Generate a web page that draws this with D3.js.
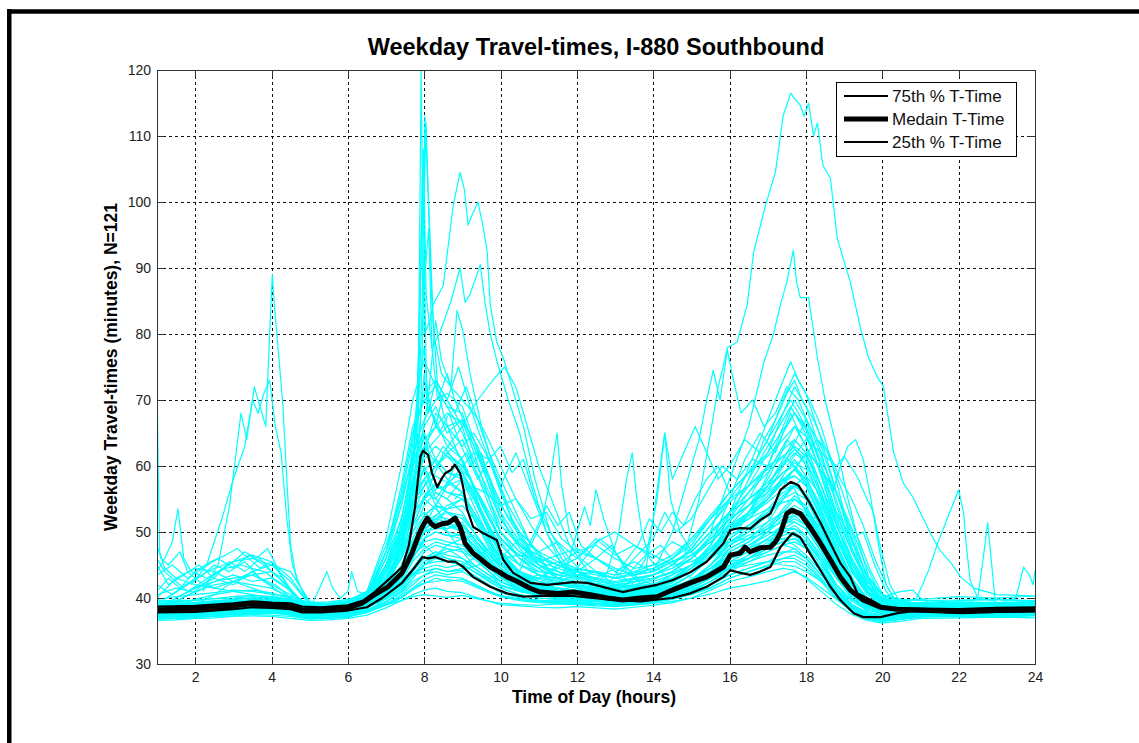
<!DOCTYPE html>
<html>
<head>
<meta charset="utf-8">
<script src="https://cdn.jsdelivr.net/npm/d3@7"></script>
<style>
  html, body { margin: 0; padding: 0; background: #ffffff; }
  svg { display: block; }
  text { font-family: "Liberation Sans", Arial, Helvetica, sans-serif; }
</style>
</head>
<body>
<svg id="chart" width="1139" height="743"></svg>
<script>
// ---- data -------------------------------------------------------------
const chartTitle = "Weekday Travel-times, I-880 Southbound";
const xLabel = "Time of Day (hours)";
const yLabel = "Weekday Travel-times (minutes), N=121";
const xTicks = [2, 4, 6, 8, 10, 12, 14, 16, 18, 20, 22, 24];
const yTicks = [30, 40, 50, 60, 70, 80, 90, 100, 110, 120];
const legendLabels = ["75th % T-Time", "Medain T-Time", "25th % T-Time"];

// common time grid (hours) for the ordinary weekday profiles
const hours = [1, 1.5, 2, 2.5, 3, 3.5, 4, 4.5, 5, 5.5, 6, 6.5,
  7, 7.4, 7.7, 8, 8.3, 8.6, 9, 9.3, 9.7, 10, 10.5,
  11, 11.5, 12, 12.5, 13, 13.5, 14, 14.5, 15, 15.5, 16,
  16.5, 17, 17.4, 17.7, 18, 18.4, 18.8, 19.2, 19.6, 20, 20.5, 21,
  22, 23, 24];

// ordinary weekday travel times (minutes) on the grid above
const typicalDays = [
  [37.6,37.5,37.8,37.7,38.0,38.2,38.1,37.9,37.4,37.5,37.7,38.2, 39.0,39.6,40.2,40.5,40.3,40.1,40.4,40.0,39.5,39.2,39.0, 38.9,39.1,39.0,38.8,38.7,38.9,39.2,39.5,40.0,40.6,41.5, 42.0,42.6,43.4,44.0,43.2,41.5,39.8,38.4,37.2,36.8,37.0,37.5, 37.6,37.5,37.7],
  [38.4,38.6,38.5,38.8,39.0,39.2,39.4,39.0,38.3,38.4,38.7,39.5, 42.5,47.0,55.0,63.0,60.5,58.0,56.0,52.0,47.5,45.0,42.5, 41.5,41.0,40.8,40.5,40.2,40.4,40.8,41.4,42.5,44.0,46.0, 47.0,48.0,49.5,50.0,48.5,45.5,42.0,39.8,38.5,38.0,38.2,38.4, 38.5,38.4,38.6],
  [38.0,38.1,38.3,38.2,38.6,38.9,39.0,38.7,38.0,38.0,38.3,39.0, 41.0,43.5,46.5,50.0,51.0,50.5,51.5,49.0,46.0,44.0,42.0, 41.0,40.6,40.5,40.2,39.8,40.0,40.3,41.0,42.3,44.0,47.5, 49.0,51.5,55.0,57.5,55.0,50.5,45.5,41.5,39.3,38.4,38.0,38.0, 38.2,38.1,38.3],
  [37.8,37.7,38.0,38.1,38.3,38.4,38.6,38.2,37.7,37.8,38.0,38.6, 40.0,41.5,43.5,45.5,46.5,47.0,47.5,46.5,44.5,43.0,41.5, 40.5,40.2,40.1,39.9,39.6,39.8,40.0,40.5,41.5,43.0,45.0, 46.0,48.0,51.0,53.0,51.5,48.0,44.0,40.5,38.6,38.0,37.8,38.0, 38.0,37.9,38.1],
  [39.0,41.0,43.0,44.5,45.5,46.0,45.0,42.5,39.0,38.6,38.8,39.6, 43.0,46.0,50.0,54.0,56.0,55.0,53.0,50.0,46.5,44.5,42.5, 41.8,41.5,41.0,40.6,40.2,40.5,40.9,41.5,42.8,44.5,46.0, 47.0,48.0,49.0,49.5,48.0,45.0,42.0,39.5,38.2,37.8,38.0,38.2, 38.3,38.2,38.4],
  [38.6,38.8,38.7,39.0,39.3,39.5,39.7,39.4,38.6,38.5,38.9,40.0, 45.0,52.0,60.0,66.0,69.0,65.0,67.0,62.0,55.0,50.0,46.0, 43.5,42.5,42.0,41.6,41.0,41.5,42.0,43.0,44.5,47.0,50.0, 52.0,55.0,58.5,61.0,58.5,53.0,47.5,43.0,40.0,38.8,38.5,38.6, 38.7,38.6,38.8],
  [37.0,36.9,37.2,37.3,37.5,37.7,37.8,37.4,36.9,37.0,37.3,37.9, 39.0,40.5,42.0,43.5,44.5,44.0,44.5,43.5,42.0,41.0,40.0, 39.6,39.5,39.4,39.2,39.0,39.3,39.6,40.0,40.8,42.0,43.5, 44.5,45.5,46.8,47.5,46.0,43.5,40.5,38.2,36.9,36.5,36.8,37.2, 37.3,37.2,37.4],
  [38.2,38.3,38.1,38.4,38.7,38.8,39.1,38.9,38.2,38.1,38.5,39.2, 41.5,44.0,47.5,50.5,52.0,53.0,52.0,50.0,47.0,44.5,42.5, 41.2,40.9,40.6,40.3,40.1,40.2,40.6,41.2,42.5,44.5,47.0, 48.5,50.5,53.5,55.5,54.0,49.5,44.5,41.0,39.0,38.2,38.1,38.2, 38.4,38.3,38.5],
  [38.9,39.0,39.2,39.1,39.4,39.6,39.8,39.5,38.8,38.8,39.2,40.5, 47.0,55.0,64.0,71.0,73.0,70.0,66.0,60.0,54.0,50.0,47.0, 45.0,44.0,43.0,42.5,42.0,42.4,43.0,44.0,46.0,48.5,51.0, 53.0,55.0,57.5,58.5,57.0,52.5,47.0,42.5,40.0,39.0,38.8,38.9, 39.0,38.9,39.2],
  [37.4,37.5,37.6,37.4,37.8,38.0,38.2,38.0,37.3,37.4,37.6,38.2, 39.5,41.0,43.0,45.0,46.0,45.5,45.0,44.0,42.5,41.5,40.5, 40.0,39.8,39.6,39.5,39.3,39.5,39.8,40.3,41.2,42.5,44.5, 46.0,48.0,50.0,51.0,49.5,46.0,42.0,39.0,37.5,37.0,37.3,37.6, 37.7,37.6,37.8],
  [38.5,38.4,38.6,38.8,39.0,39.1,39.3,39.1,38.4,38.4,38.8,39.6, 43.0,46.5,51.0,55.0,56.5,57.0,58.0,55.0,50.5,47.0,44.0, 42.5,42.0,41.5,41.2,40.8,41.0,41.5,42.5,44.0,46.5,50.0, 53.0,57.0,61.0,64.0,62.0,56.0,49.0,44.0,40.5,39.0,38.6,38.6, 38.7,38.6,38.8],
  [38.2,40.0,41.5,42.5,43.0,43.5,42.0,40.5,38.3,38.2,38.6,39.3, 41.0,43.0,46.0,49.0,50.0,49.5,49.5,48.0,45.0,43.0,41.5, 40.8,40.5,40.3,40.0,39.8,40.0,40.4,41.0,42.0,43.5,45.5, 47.0,49.0,51.0,52.0,51.0,47.5,43.5,40.5,38.8,38.2,38.0,38.1, 38.2,38.1,38.3],
  [38.7,38.8,38.9,38.7,39.1,39.3,39.5,39.2,38.5,38.6,39.0,40.2, 46.0,54.0,62.0,65.0,61.0,59.0,58.0,54.0,49.0,46.0,43.5, 42.5,42.0,41.8,41.5,41.0,41.3,41.8,42.8,44.5,47.0,51.0, 54.0,58.0,62.5,66.0,63.0,57.0,50.0,44.5,41.0,39.3,38.8,38.7, 38.8,38.7,38.9],
  [37.2,37.3,37.4,37.6,37.7,37.9,38.0,37.7,37.0,37.1,37.4,38.0, 39.2,40.2,41.5,42.3,42.5,42.8,42.5,41.8,40.8,40.2,39.6, 39.3,39.2,39.1,39.0,38.8,39.0,39.3,39.8,40.5,41.5,43.0, 44.0,45.0,46.0,46.5,45.5,43.0,40.0,38.0,37.0,36.6,36.9,37.3, 37.4,37.3,37.5],
  [38.3,38.5,38.4,38.6,38.9,39.0,39.2,38.8,38.2,38.3,38.6,39.4, 42.0,45.0,49.0,52.5,54.0,53.5,54.0,52.0,48.0,45.0,42.8, 41.6,41.2,41.0,40.8,40.5,40.8,41.3,42.3,44.0,47.0,51.5, 55.0,60.0,66.0,70.0,67.0,60.0,52.0,46.0,42.0,39.8,39.0,38.8, 38.8,38.7,38.9],
  [37.9,38.0,38.2,38.0,38.4,38.5,38.7,38.4,37.8,37.9,38.1,38.8, 40.5,42.0,44.5,47.0,48.0,47.5,47.0,46.0,44.0,42.5,41.2, 40.4,40.1,40.0,39.8,39.5,39.7,40.0,40.6,41.6,43.0,44.8, 46.0,47.5,48.6,49.0,48.0,45.0,41.5,39.0,37.8,37.4,37.6,37.9, 38.0,37.9,38.1],
  [39.2,39.4,39.3,39.6,39.8,40.0,40.1,39.8,39.0,39.0,39.5,41.0, 49.0,60.0,70.0,76.0,72.0,69.0,68.0,63.0,57.0,52.0,48.0, 45.5,44.5,43.5,43.0,42.5,43.0,43.5,44.5,46.5,49.0,52.0, 54.0,57.0,60.5,62.5,61.0,55.5,49.5,44.5,41.0,39.5,39.0,39.0, 39.2,39.1,39.3],
  [38.1,38.2,38.4,38.3,38.5,38.8,38.9,38.6,37.9,38.0,38.3,39.0, 41.0,43.0,46.0,49.0,51.5,53.5,55.0,55.0,51.0,47.0,43.5, 41.8,41.2,40.8,40.5,40.2,40.3,40.7,41.5,42.8,45.0,47.5, 49.0,51.0,53.0,54.0,53.0,49.0,44.5,40.8,38.9,38.1,38.0,38.1, 38.2,38.1,38.3],
  [38.5,39.5,41.0,43.5,45.5,46.5,45.5,43.0,39.0,38.5,38.9,39.8, 44.0,49.0,55.0,59.5,61.0,59.0,58.5,55.5,50.5,47.0,44.0, 42.8,42.2,41.8,41.4,41.0,41.2,41.6,42.5,44.0,46.0,49.0, 51.0,53.5,56.0,57.0,56.0,51.5,46.0,42.0,39.5,38.6,38.4,38.5, 38.6,38.5,38.7],
  [37.5,37.4,37.6,37.8,38.0,38.1,38.3,37.9,37.2,37.3,37.5,38.1, 39.4,40.8,42.5,43.5,44.0,43.5,44.0,43.0,41.8,40.8,40.0, 39.7,39.5,39.3,39.2,39.0,39.2,39.5,40.0,41.0,42.5,44.5, 46.0,48.0,50.0,50.5,49.0,45.5,41.5,38.6,37.2,36.8,37.0,37.4, 37.5,37.4,37.6],
  [38.8,38.7,38.9,39.0,39.2,39.4,39.6,39.3,38.6,38.6,39.0,40.0, 44.0,49.0,56.0,62.0,64.0,66.0,67.0,64.0,58.0,53.0,48.5, 45.0,43.5,42.8,42.2,41.8,42.0,42.5,43.5,45.0,47.5,50.5, 52.5,55.5,58.0,59.5,58.0,53.5,48.0,43.0,40.0,39.0,38.7,38.7, 38.8,38.7,38.9],
  [38.0,38.1,38.0,38.2,38.5,38.7,38.9,38.5,37.8,37.9,38.2,39.0, 40.8,43.0,46.0,48.5,49.0,48.5,48.0,46.5,44.0,42.5,41.2, 40.6,40.4,40.2,40.0,39.7,39.9,40.2,40.8,41.8,43.5,46.0, 47.5,50.0,53.0,55.0,53.5,49.0,44.0,40.5,38.6,38.0,37.9,38.0, 38.1,38.0,38.2],
  [38.6,38.6,38.8,38.9,39.1,39.3,39.4,39.1,38.4,38.5,38.9,39.8, 43.5,47.0,52.0,55.5,57.0,56.0,55.0,52.5,48.5,45.5,43.0, 42.0,41.5,41.2,41.0,40.7,41.0,41.5,42.5,44.5,48.0,53.0, 57.0,62.0,68.0,72.0,69.0,62.0,54.0,47.5,43.0,40.5,39.5,39.0, 39.0,38.9,39.1],
  [37.7,37.8,37.7,37.9,38.2,38.4,38.5,38.2,37.5,37.6,37.9,38.5, 40.0,41.5,43.5,45.0,45.5,45.5,45.0,44.0,42.5,41.5,40.5, 40.0,39.8,39.6,39.5,39.2,39.4,39.8,40.3,41.2,42.5,44.0, 45.5,47.0,48.0,48.5,47.5,44.5,41.0,38.5,37.3,37.0,37.2,37.6, 37.7,37.6,37.8],
  [39.0,39.1,39.0,39.3,39.5,39.7,39.9,39.6,38.8,38.9,39.3,40.8, 47.0,54.0,62.0,67.0,70.0,71.0,69.0,64.0,57.0,52.0,48.0, 45.0,44.0,43.2,42.8,42.3,42.8,43.5,45.0,47.5,51.0,55.0, 59.0,64.0,70.0,74.0,71.0,64.0,56.0,48.5,43.5,40.5,39.5,39.2, 39.3,39.2,39.4],
  [40.0,43.0,44.5,44.0,42.5,41.5,40.5,39.5,38.2,38.1,38.5,39.2, 41.5,44.0,48.0,51.0,52.0,51.5,50.5,48.5,45.5,43.5,42.0, 41.0,40.7,40.5,40.2,40.0,40.1,40.5,41.2,42.5,44.5,47.0, 48.5,50.5,52.5,53.5,52.5,48.5,44.0,40.5,38.7,38.1,38.0,38.2, 38.3,38.2,38.4],
  [37.9,37.8,38.0,38.2,38.3,38.6,38.7,38.4,37.7,37.8,38.0,38.7, 40.2,41.8,44.0,46.0,47.0,46.5,46.0,45.0,43.5,42.0,41.0, 40.3,40.0,39.8,39.6,39.4,39.6,39.9,40.5,41.5,43.0,45.0, 46.5,48.5,50.5,51.5,50.5,47.0,43.0,40.0,38.2,37.6,37.5,37.8, 37.9,37.8,38.0],
  [38.4,38.6,39.0,40.5,42.5,44.0,45.0,44.0,39.5,38.4,38.8,39.7, 44.5,50.0,57.0,59.5,55.0,57.5,59.0,56.0,50.0,46.5,43.5, 42.5,42.0,41.6,41.2,40.9,41.2,41.8,42.8,45.0,48.0,52.0, 56.0,60.0,65.0,68.0,65.5,58.5,51.0,45.5,41.5,39.5,38.9,38.8, 38.9,38.8,39.0],
  [37.1,37.2,37.3,37.5,37.6,37.8,37.9,37.6,37.0,37.0,37.2,37.8, 39.0,40.0,41.5,42.8,43.5,43.2,43.0,42.2,41.0,40.3,39.8, 39.4,39.3,39.2,39.0,38.9,39.1,39.4,39.9,40.6,41.6,43.0, 44.0,44.8,45.5,45.5,44.5,42.5,39.8,37.9,36.8,36.4,36.8,37.2, 37.3,37.2,37.4],
  [38.3,39.5,41.0,42.0,42.5,42.0,41.5,40.0,38.2,38.3,38.6,39.3, 41.5,44.0,47.0,50.0,50.5,50.5,51.0,49.0,46.0,44.0,42.0, 41.0,40.8,40.5,40.3,40.0,40.2,40.6,41.3,42.8,45.0,48.0, 50.0,52.5,55.0,56.0,55.0,50.5,45.0,41.0,38.9,38.2,38.1,38.2, 38.3,38.2,38.4],
  [36.8,36.9,37.0,37.2,37.3,37.5,37.4,37.2,36.8,36.9,37.1,37.8, 40.0,43.0,46.5,48.0,46.5,47.5,46.0,44.5,43.0,44.0,42.5, 43.5,42.0,44.0,42.5,41.0,43.0,42.0,43.5,45.0,47.5,50.0, 52.0,55.0,58.0,56.5,53.0,49.0,44.0,40.0,38.0,37.0,37.2,37.5, 37.4,37.6,37.5],
  [39.8,40.2,40.5,40.8,41.2,41.0,40.6,40.2,39.3,39.4,39.8,40.6, 45.0,50.0,55.0,58.0,60.0,62.0,60.0,57.0,52.0,49.0,46.0, 44.5,45.5,44.0,43.0,44.5,43.5,44.0,45.5,47.0,50.0,53.0, 55.0,57.0,59.0,60.0,58.0,54.0,49.0,44.0,41.0,39.5,39.6,39.8, 40.2,40.0,40.3],
  [38.1,38.0,38.2,38.5,38.4,38.6,38.5,38.3,37.9,38.0,38.4,39.5, 44.0,51.0,56.0,58.0,54.0,50.0,47.0,45.0,43.5,42.5,41.5, 41.0,42.5,41.5,40.5,40.8,41.5,40.8,41.5,42.5,44.0,45.5, 46.0,47.0,48.0,47.5,46.0,43.5,41.0,39.0,37.8,37.5,37.7,38.0, 38.0,38.2,38.1],
  [38.7,38.9,38.8,39.2,39.5,39.4,39.6,39.2,38.6,38.7,39.0,39.8, 42.0,44.5,48.0,51.0,54.0,57.0,60.0,62.0,61.0,56.0,49.0, 45.0,43.0,42.5,42.0,41.5,42.5,43.0,44.0,46.0,49.5,53.0, 55.0,57.5,60.0,62.0,60.5,56.0,50.0,45.0,41.5,39.8,39.0,38.9, 38.9,39.0,39.1],
  [36.6,36.7,36.9,37.0,37.2,37.3,37.2,36.9,36.6,36.7,36.9,37.4, 38.5,39.6,40.5,41.2,41.5,41.0,40.8,40.2,39.5,39.0,38.8, 38.6,38.5,38.7,38.5,38.3,38.6,38.9,39.3,40.0,41.2,42.5, 43.2,44.0,44.5,44.2,43.0,41.0,39.0,37.5,36.6,36.2,36.5,36.9, 37.0,37.1,37.0],
  [38.9,38.7,39.0,39.3,39.2,39.5,39.6,39.3,38.7,38.8,39.2,40.4, 46.0,52.0,60.0,63.0,66.0,64.0,61.0,57.0,53.0,50.0,47.0, 45.5,46.5,47.5,46.0,44.5,43.5,44.5,46.0,48.0,52.0,55.0, 57.0,59.5,62.5,64.0,62.0,57.0,51.0,46.0,42.0,40.0,39.3,39.2, 39.4,39.3,39.5],
  [37.7,37.9,38.1,38.0,38.3,38.5,38.4,38.1,37.6,37.7,38.0,38.9, 42.0,46.0,51.0,53.0,51.5,50.0,49.5,47.0,45.0,43.5,42.0, 41.5,41.0,42.0,41.2,40.6,40.9,41.5,42.5,44.0,46.5,50.0, 52.5,55.0,57.5,59.5,57.5,53.0,47.5,42.5,39.5,38.3,38.0,37.9, 38.0,37.9,38.0],
  [38.3,38.4,38.7,38.6,38.9,39.1,39.0,38.8,38.2,38.2,38.6,39.5, 43.0,47.0,52.5,57.0,60.0,62.0,64.0,60.0,55.0,51.0,48.0, 46.5,45.0,47.0,48.0,46.0,44.5,45.0,45.5,46.5,48.5,51.0, 52.0,53.5,54.5,55.0,54.0,50.0,45.5,41.5,39.0,38.2,38.3,38.5, 38.6,38.5,38.7],
  [38.8,38.6,38.9,38.7,39.0,39.2,39.0,38.7,38.2,38.3,38.6,39.3, 40.5,42.0,43.8,44.5,45.0,44.6,45.2,44.0,42.8,41.8,41.0, 40.5,41.0,40.5,40.2,40.0,40.6,41.0,41.5,42.5,44.0,46.5, 48.0,50.0,52.0,52.5,51.0,47.5,43.5,40.5,38.6,38.0,38.2,38.6, 38.7,38.8,38.6],
  [37.3,37.4,37.6,37.5,37.8,37.9,38.0,37.7,37.2,37.3,37.6,38.6, 42.5,46.0,51.0,55.0,57.5,56.0,55.5,53.0,49.0,46.0,43.5, 42.0,41.5,41.0,40.8,41.2,41.5,42.0,43.0,44.5,47.0,50.5, 53.0,56.0,60.0,63.5,67.0,63.0,56.0,49.0,43.5,40.5,38.8,38.0, 37.6,37.5,37.7],
  [38.5,38.3,38.6,38.9,39.0,39.3,39.2,38.9,38.3,38.4,38.8,40.0, 47.0,57.0,66.0,70.0,67.0,63.0,61.0,57.0,52.0,48.5,45.0, 43.5,43.0,42.5,42.0,41.5,41.8,42.2,43.0,45.0,47.5,50.5, 52.5,54.5,56.5,57.0,55.5,51.0,46.0,42.0,39.5,38.5,38.3,38.4, 38.5,38.4,38.6],
  [37.9,37.7,37.9,38.1,38.2,38.3,38.5,38.2,37.6,37.7,38.0,38.6, 39.8,41.2,43.0,45.0,46.5,48.0,49.0,49.5,47.0,44.5,42.0, 40.6,40.0,39.7,39.5,39.4,39.5,39.8,40.2,41.0,42.0,43.5, 44.5,45.5,46.0,46.0,45.0,42.8,40.5,38.6,37.4,37.1,37.3,37.7, 37.8,37.7,37.9],
  [39.2,39.0,39.3,39.5,39.8,40.0,39.7,39.4,38.7,38.8,39.1,40.0, 43.0,46.0,50.0,52.5,54.0,53.0,52.5,50.0,47.0,45.5,44.0, 43.0,44.5,46.0,48.5,50.0,48.0,46.5,45.0,45.5,47.0,48.5, 49.0,50.0,50.0,49.5,48.5,46.0,43.0,40.5,39.0,38.5,38.8,39.0, 39.1,39.3,39.2],
  [38.0,38.2,38.1,38.3,38.6,38.7,38.9,38.5,37.9,38.0,38.3,39.2, 43.0,48.0,54.0,60.0,56.0,55.0,58.0,55.0,50.0,46.5,43.5, 42.0,41.5,41.0,40.7,40.5,40.8,41.2,42.0,43.5,46.0,48.5, 50.0,51.5,53.0,53.5,52.5,48.5,44.0,40.5,38.6,38.0,38.0,38.1, 38.2,38.1,38.3],
  [37.6,37.7,37.5,37.8,38.0,38.2,38.3,38.0,37.4,37.5,37.8,38.7, 41.0,44.0,48.0,50.5,51.5,51.0,50.0,48.0,45.5,43.8,42.3, 41.5,41.2,40.8,41.2,41.8,42.5,43.5,45.0,47.5,51.0,54.5, 57.0,60.0,61.5,60.0,57.0,52.0,46.5,42.0,39.2,38.0,37.6,37.7, 37.8,37.7,37.9],
  [37.2,37.1,37.3,37.5,37.4,37.6,37.7,37.4,36.9,37.0,37.2,37.8, 38.9,40.0,41.2,42.2,43.0,42.5,42.8,42.0,41.0,40.4,39.8, 39.4,39.6,39.4,39.2,39.0,39.3,39.6,40.2,41.0,42.5,44.5, 46.0,47.5,48.5,49.0,47.5,44.5,41.0,38.5,37.0,36.6,36.8,37.1, 37.2,37.1,37.3],
  [39.5,39.7,39.6,39.9,40.2,40.4,40.2,39.8,39.2,39.2,39.6,41.0, 48.0,55.0,61.0,64.0,66.0,68.0,66.5,63.0,58.0,54.0,50.0, 47.0,45.5,44.5,44.0,43.5,44.0,45.0,46.5,49.0,52.5,56.0, 59.0,61.5,64.0,66.0,64.5,59.0,52.5,47.0,42.5,40.5,39.8,39.6, 39.7,39.8,39.6],
  [38.4,38.5,38.3,38.6,38.8,39.0,38.9,38.6,38.0,38.1,38.4,39.0, 40.8,42.5,44.5,46.0,47.0,46.0,45.0,46.0,47.5,46.5,44.0, 42.5,41.5,41.0,40.6,40.4,40.7,41.0,41.8,43.5,46.0,49.0, 51.0,53.0,54.5,55.0,53.5,49.5,45.0,41.0,39.0,38.2,38.1,38.3, 38.4,38.3,38.5],
  [38.6,38.8,38.7,38.9,39.2,39.4,39.3,39.0,38.5,38.5,38.9,40.0, 45.0,50.0,54.5,56.0,55.0,53.0,51.0,49.0,46.5,45.0,43.5, 43.0,42.5,43.5,44.0,43.0,42.5,43.0,43.8,45.0,47.0,49.5, 51.0,53.0,55.0,57.0,58.5,55.5,50.0,44.5,41.0,39.2,38.6,38.5, 38.6,38.7,38.6],
  [37.8,37.9,38.0,38.2,38.1,38.4,38.6,38.3,37.6,37.7,38.0,38.8, 41.5,44.5,48.5,51.5,52.5,52.0,51.0,49.0,46.0,44.0,42.2, 41.0,40.6,40.3,40.1,39.9,40.1,40.5,41.2,42.2,44.0,46.0, 47.5,49.0,50.5,50.5,49.5,46.5,43.0,40.0,38.3,37.7,37.6,37.8, 37.9,38.0,37.8],
  [38.2,38.1,38.3,38.4,38.6,38.5,38.7,38.4,37.9,38.0,38.3,38.9, 40.5,42.0,44.5,46.0,46.5,46.0,45.5,44.5,43.0,42.0,41.0, 40.5,40.2,40.0,39.8,39.6,39.8,40.2,41.0,42.5,45.0,48.5, 50.5,53.0,55.5,57.0,55.5,51.0,45.5,41.0,38.8,38.0,37.9,38.1, 38.2,38.1,38.3],
  [39.0,39.2,39.1,39.4,39.6,39.8,39.7,39.4,38.8,38.9,39.3,40.3, 44.5,49.0,54.5,57.0,58.5,57.5,56.0,53.0,49.5,47.0,45.0, 44.0,43.5,44.5,43.8,43.0,43.5,44.0,45.5,47.0,50.0,53.0, 56.0,59.0,61.5,63.0,61.5,57.0,51.0,45.5,41.8,40.0,39.2,39.0, 39.1,39.2,39.0],
  [38.0,38.8,39.8,40.5,41.0,41.2,40.8,39.8,38.2,38.1,38.4,39.1, 40.8,42.5,45.5,47.5,48.5,48.0,47.5,46.0,44.0,42.5,41.2, 40.5,40.2,40.0,39.8,39.6,39.8,40.1,40.6,41.5,43.0,44.5, 45.5,46.5,47.0,47.0,46.0,43.5,41.0,38.8,37.6,37.2,37.4,37.8, 37.9,37.8,38.0],
  [38.4,38.2,38.5,38.7,38.8,39.0,39.2,38.9,38.3,38.3,38.7,39.8, 45.0,51.0,58.0,61.0,63.0,61.5,59.0,55.5,51.0,48.0,45.0, 43.5,42.8,42.2,41.8,41.5,41.7,42.0,42.8,44.0,46.0,48.0, 49.5,50.5,51.5,51.5,50.5,47.0,43.5,40.5,38.8,38.2,38.2,38.3, 38.4,38.3,38.5],
  [37.4,37.6,37.5,37.7,38.0,38.1,38.2,37.9,37.3,37.4,37.7,38.5, 41.0,43.5,47.0,50.0,52.5,54.0,55.0,52.5,48.5,45.5,43.0, 41.5,41.0,40.6,40.4,40.2,40.4,40.8,41.5,42.8,44.5,46.5, 48.0,49.5,51.0,52.5,53.0,50.5,46.0,41.5,38.8,37.6,37.2,37.4, 37.5,37.4,37.6],
  [38.9,39.0,38.8,39.1,39.3,39.5,39.4,39.1,38.5,38.6,38.9,39.6, 41.0,42.0,43.5,44.0,44.5,44.0,44.2,44.8,45.5,46.0,46.5, 46.0,45.0,43.5,42.0,41.5,42.0,42.8,44.0,46.0,49.0,52.0, 54.0,56.0,58.0,58.5,57.0,52.0,46.5,42.0,39.5,38.6,38.6,38.8, 38.9,38.8,39.0],
  [38.2,38.4,38.6,38.5,38.8,39.0,38.9,38.7,38.1,38.2,38.6,40.0, 47.0,56.0,65.0,70.0,72.0,69.0,65.0,61.0,56.0,52.0,48.0, 46.0,45.0,44.0,43.5,43.0,43.8,44.5,46.0,48.5,52.0,56.0, 59.0,62.0,65.5,68.0,66.0,60.0,53.0,47.0,42.5,40.0,38.9,38.5, 38.6,38.5,38.7],
  [39.6,39.4,39.7,39.9,40.0,40.2,40.0,39.6,39.0,39.1,39.4,40.0, 42.0,44.0,47.0,49.0,50.0,49.5,49.0,47.5,45.5,44.0,42.8, 42.0,41.5,41.2,41.0,40.8,41.0,41.2,41.8,42.5,43.5,44.5, 45.0,45.5,45.0,44.8,44.0,42.5,40.8,39.8,39.2,38.9,39.0,39.3, 39.6,39.8,39.5],
  [37.0,37.2,37.1,37.3,37.6,37.7,37.8,37.5,36.9,37.0,37.3,38.3, 42.5,48.0,53.0,55.0,53.5,51.5,50.0,47.5,45.0,43.2,41.8, 40.8,40.4,40.1,39.9,39.8,40.0,40.4,41.0,42.0,43.8,46.0, 47.5,48.8,49.0,48.0,46.5,44.0,41.0,38.6,37.2,36.7,36.9,37.2, 37.3,37.2,37.4],
  [37.9,38.0,38.2,38.1,38.4,38.6,38.5,38.3,37.8,37.8,38.2,39.2, 44.0,48.0,54.0,58.0,60.0,61.5,60.0,57.0,52.5,49.0,46.5, 44.5,43.0,44.0,42.8,42.0,43.0,43.5,44.5,46.0,49.0,52.0, 54.0,56.5,59.0,60.5,59.5,55.0,49.0,44.0,40.8,39.0,38.3,38.1, 38.2,38.1,38.3]
];

// unusual days, as [hour, minutes] over the stretch where they leave the pack
const nightOutliers = [
  [[1,74],[1.03,60],[1.07,47],[1.2,44.5],[1.5,43],[2,42],[2.5,41.5],[3,41],[3.5,40.5],[4,40],[4.5,39.5],[5,38.4]],
  [[1,44],[1.2,46],[1.4,48.5],[1.55,53.5],[1.62,50],[1.7,46],[1.9,44],[2.3,43],[2.8,44.5],[3.2,45],[3.8,44],[4.3,42],[4.7,40],[5,38.8]],
  [[2.2,41],[2.6,45],[2.9,54],[3.2,68],[3.35,64],[3.55,72],[3.7,69],[3.85,66],[3.95,80],[4.02,89],[4.08,84],[4.2,76],[4.3,69],[4.4,58],[4.5,48],[4.65,43],[4.9,40],[5.2,38.5]],
  [[1.9,42],[2.3,45],[2.7,52],[3.0,58],[3.3,63],[3.5,70],[3.65,68],[3.8,71],[3.95,73],[4.1,66],[4.25,62],[4.4,52],[4.55,45],[4.8,41],[5.1,38.6]],
  [[1,41],[1.3,43],[1.6,41.5],[2,44],[2.4,45.5],[2.8,46.5],[3.1,47.5],[3.4,46],[3.7,44.5],[4,45.5],[4.3,43],[4.6,40.5],[5,38.5]],
  [[1,46],[1.2,44],[1.5,42.5],[1.8,41],[2.2,42.5],[2.6,44],[3.0,45.5],[3.3,47],[3.6,46],[3.9,47.5],[4.2,44],[4.5,41],[4.9,38.8]],
  [[1,42],[1.4,40.5],[1.8,42],[2.2,43.5],[2.5,45],[2.9,44],[3.3,45.5],[3.7,43],[4.1,42],[4.5,40],[5,38.4]],
  [[1,48],[1.1,46],[1.3,45],[1.6,47],[1.8,44],[2.1,42.5],[2.5,41.5],[3,42.5],[3.5,43.5],[4,44],[4.3,43],[4.6,40],[5,38.3]],
  [[1,43.5],[1.4,45],[1.8,43],[2.2,44.5],[2.6,46],[3,44.5],[3.4,46.5],[3.8,45],[4.2,43],[4.6,40.5],[5,38.6]],
  [[1,40.5],[1.5,41.5],[2,40.8],[2.5,42.5],[3,43.5],[3.5,42.5],[4,43],[4.4,41.5],[4.8,39.5]],
  [[1,45],[1.3,42],[1.7,43.5],[2.1,45],[2.5,43],[2.9,45.5],[3.3,44],[3.7,46],[4.0,44],[4.4,42],[4.8,39.5]],
  [[1.5,40],[2,41.5],[2.5,43],[3,42],[3.5,44],[3.8,42.5],[4.2,41],[4.6,39.5]],
  [[4.9,38.5],[5.1,39.5],[5.3,42],[5.45,44],[5.6,41.5],[5.8,40],[6.0,41],[6.1,44],[6.25,41],[6.5,40.5],[7,43]]
];

const morningOutliers = [
  [[6.8,40],[7.2,44],[7.5,50],[7.7,58],[7.85,75],[7.92,120],[7.97,95],[8.05,112],[8.12,98],[8.2,85],[8.35,72],[8.5,68],[8.8,63],[9.2,58],[9.7,50],[10.2,45],[11,42]],
  [[6.8,40.5],[7.2,45],[7.5,53],[7.8,66],[7.95,100],[8.0,80],[8.15,82],[8.23,84.4],[8.5,87.4],[8.76,99.5],[8.94,104.5],[9.05,102],[9.15,96.5],[9.25,98],[9.41,100],[9.55,96],[9.65,92.4],[9.73,84.4],[9.9,78.8],[10.07,76.4],[10.3,72],[10.6,66],[10.9,58],[11.3,50],[11.8,45],[12.5,42]],
  [[7,43],[7.5,52],[7.8,64],[7.98,108],[8.05,86],[8.2,78],[8.4,80],[8.7,85],[8.94,90],[9.07,84.8],[9.2,86],[9.47,90.5],[9.6,84.4],[9.73,80],[9.9,76],[10.2,70],[10.5,65],[10.8,58],[11.2,50],[11.6,45],[12,42]],
  [[7,42],[7.5,50],[7.8,60],[7.95,85],[8.02,113],[8.08,105],[8.15,95],[8.25,80],[8.45,74],[8.7,72],[8.86,83.6],[9.02,80.3],[9.2,74],[9.5,66],[9.8,60],[10.2,54],[10.8,48],[11.5,44]],
  [[7.2,44],[7.6,55],[7.85,70],[7.95,104],[8.03,90],[8.12,96],[8.2,78],[8.35,70],[8.6,74],[8.8,70],[9.1,66],[9.4,63],[9.8,57],[10.2,52],[10.8,47],[11.5,43]],
  [[7,41],[7.4,48],[7.7,57],[7.9,66],[8.0,92],[8.06,72],[8.2,68],[8.4,65],[8.65,68],[8.9,64],[9.2,60],[9.5,62],[9.8,56],[10.2,50],[10.7,46],[11.3,43]],
  [[7.2,45],[7.6,58],[7.85,72],[8.0,78],[8.1,70],[8.3,82],[8.45,76],[8.7,72],[9.0,70],[9.3,68],[9.6,65],[10.0,60],[10.4,55],[10.9,50],[11.5,46],[12,43]],
  [[8,55],[8.5,62],[9,66],[9.4,70],[9.8,73],[10.1,75],[10.4,72],[10.7,66],[11,60],[11.4,54],[11.8,48],[12.3,44]],
  [[7.5,48],[8,62],[8.3,68],[8.6,66],[9,63],[9.3,65],[9.6,62],[10,57],[10.4,62],[10.8,56],[11.2,50],[11.6,46],[12,43]],
  [[7.3,46],[7.7,56],[8,65],[8.2,60],[8.5,63],[8.9,60],[9.2,58],[9.6,53],[10,49],[10.5,46],[11,44]],
  [[7.3,45],[7.6,54],[7.9,63],[8.1,70],[8.3,66],[8.5,71],[8.8,68],[9.1,72],[9.4,67],[9.7,62],[10,58],[10.4,53],[10.8,48],[11.3,44]],
  [[7.4,47],[7.8,60],[8.0,74],[8.1,68],[8.3,73],[8.6,70],[8.9,75],[9.2,69],[9.5,64],[9.9,58],[10.3,52],[10.8,47],[11.3,44]],
  [[8.5,56],[8.8,60],[9.1,62],[9.4,58],[9.7,61],[10,63],[10.3,59],[10.6,61],[10.9,55],[11.3,50],[11.8,46],[12.3,43]],
  [[8.8,55],[9.2,57],[9.6,56],[10,54],[10.4,55],[10.8,52],[11.2,53],[11.6,49],[12,47],[12.5,46],[13,44],[13.5,42]]
];

const middayOutliers = [
  [[10.5,44],[10.8,48],[11.1,52],[11.3,58],[11.48,65],[11.6,57],[11.8,50],[12.1,46],[12.5,44],[13,42]],
  [[12.5,42],[12.8,44],[13.1,50],[13.3,58],[13.45,62],[13.55,56],[13.7,50],[13.9,46],[14.2,44],[14.5,42.5]],
  [[11.5,42],[11.8,46],[12.0,50],[12.2,53.8],[12.35,51],[12.5,56.4],[12.7,52],[13,47],[13.3,44],[13.7,42]],
  [[10.5,45],[10.9,50],[11.2,54],[11.5,51],[11.8,53],[12.1,48],[12.5,46],[12.9,48],[13.2,45],[13.6,43]],
  [[12.8,42],[13.2,45],[13.6,48],[13.9,52],[14.2,50],[14.5,53],[14.8,51],[15.1,55],[15.4,58],[15.7,60],[16,56]],
  [[13.5,43],[13.8,46],[14.1,55],[14.3,65],[14.45,55],[14.7,50],[15,47],[15.3,45]],
  [[11.8,43],[12.2,46],[12.6,49],[13.0,47],[13.4,44],[13.8,46.5],[14.2,48],[14.6,45],[15,43]],
  [[10,46],[10.5,49],[11,47],[11.5,48.5],[12,46],[12.5,49],[13,46.5],[13.5,48],[14,46],[14.5,48.5],[15,47],[15.5,50],[16,53]],
  [[11,43],[11.5,45],[12,44],[12.5,46],[13,44],[13.5,45.5],[14,44],[14.5,46],[15,49],[15.5,52],[16,55]],
  [[13,43],[13.5,46],[14,49],[14.3,53],[14.6,50],[15,52],[15.4,56],[15.8,60],[16.2,58],[16.6,61],[17,60]]
];

const eveningOutliers = [
  [[14.8,46],[15.2,55],[15.5,65],[15.7,72],[15.84,75.3],[15.94,77.9],[16.2,78.8],[16.46,84.4],[16.63,92.4],[16.94,99.5],[17.2,104.5],[17.4,113],[17.6,116.5],[17.72,115.5],[17.85,114.7],[17.95,113],[18.07,115],[18.2,110],[18.3,112],[18.44,105.6],[18.64,103.6],[18.82,94.5],[19.0,91],[19.16,87.9],[19.43,80.9],[19.64,76.4],[19.87,73.5],[20.03,72],[20.3,62],[20.55,57.4],[20.8,55.3],[21.26,49.8],[21.5,47.3],[21.8,45.3],[22.05,43.2],[22.4,41.5],[23,40.5],[24,40.3]],
  [[15.5,50],[16,58],[16.5,66],[16.9,75.8],[17.15,80],[17.33,84.4],[17.5,87.9],[17.67,92.7],[17.75,88],[17.85,85.5],[18.07,85.5],[18.3,76.4],[18.5,70],[18.8,63],[19.1,55],[19.4,48],[19.7,42],[20,39]],
  [[15.8,50],[16.3,57],[16.8,64],[17.2,70],[17.6,75.8],[17.8,73],[18.1,70],[18.4,66],[18.7,60],[19.0,53],[19.3,47],[19.6,42],[20,39]],
  [[14,44],[14.5,50],[14.9,58],[15.2,64],[15.4,70],[15.57,74.5],[15.75,70],[15.94,77.6],[16.1,73],[16.3,68],[16.6,70],[16.9,66],[17.2,68],[17.5,72],[17.8,70],[18.1,66],[18.5,60],[18.9,53],[19.3,46],[19.7,41],[20.1,38.5]],
  [[13.8,44],[14.0,52],[14.3,65],[14.5,58],[14.8,62],[15.1,66],[15.4,62],[15.7,58],[16.0,60],[16.4,64],[16.8,62],[17.2,66],[17.6,70],[17.9,67],[18.3,62],[18.8,56],[19.2,50],[19.6,43],[20,39]],
  [[17,52],[17.5,58],[18,62],[18.4,60],[18.7,56],[18.9,60],[19.1,63],[19.3,64],[19.5,61],[19.7,55],[19.9,48],[20.1,42],[20.4,39]],
  [[17.5,60],[18,64],[18.4,62],[18.8,60],[19.0,61.5],[19.35,58.3],[19.6,55],[19.77,52.9],[19.95,47.7],[20.2,42],[20.5,39]],
  [[16,52],[16.5,58],[17,63],[17.3,66],[17.6,69],[17.9,66],[18.2,62],[18.6,55],[19,48],[19.4,43],[19.8,39.5]],
  [[16.2,50],[16.7,55],[17.1,60],[17.5,64],[17.8,62],[18.1,59],[18.5,53],[18.9,47],[19.3,42],[19.7,38.8]],
  [[16.5,58],[16.9,64],[17.2,67],[17.5,71],[17.7,73],[17.9,70],[18.2,67],[18.5,63],[18.9,57],[19.3,50],[19.7,44],[20.1,39.5]],
  [[15.5,48],[16,55],[16.4,61],[16.8,65],[17.2,62],[17.6,68],[17.9,64],[18.3,60],[18.7,57],[19.1,52],[19.5,46],[19.9,41],[20.3,38.5]],
  [[17.5,58],[17.9,61],[18.3,64],[18.6,62],[18.9,58],[19.2,55],[19.5,51],[19.8,46],[20.1,42],[20.4,39]],
  [[18.2,52],[18.6,55],[18.9,52],[19.2,49],[19.5,50],[19.8,45],[20.1,41],[20.4,38.8]]
];

const lateOutliers = [
  [[20.5,39],[20.9,40],[21.2,44],[21.45,48.3],[21.7,52],[22.0,56.4],[22.13,52.9],[22.2,48],[22.3,42.7],[22.5,40],[23,39.5]],
  [[22.3,39.5],[22.5,40],[22.62,45],[22.76,51.4],[22.85,46],[22.95,40],[23.2,39.5]],
  [[23.2,39.5],[23.5,40],[23.7,44.7],[23.85,43.5],[23.95,42],[24,44.2]],
  [[19.8,39],[20.2,40.5],[20.5,41],[20.8,41.2],[21.0,40],[21.3,39]]
];

// percentile curves, [hour, minutes]
const pct75 = [[1,38.7],[2,38.8],[3,39.2],[3.5,39.5],[4,39.3],[4.5,39.2],[4.8,38.7],[5.3,38.6],[6,38.9],[6.4,39.6],[6.7,40.9],[7.05,42.7],[7.42,44.7],[7.6,48],[7.76,53.8],[7.9,61.4],[7.97,62.3],[8.1,61.7],[8.2,59],[8.34,56.8],[8.45,58],[8.55,58.9],[8.7,59.4],[8.8,60.2],[8.94,58.9],[9.02,56.8],[9.12,53.5],[9.28,50.8],[9.55,49.8],[9.9,48.8],[10.07,45.8],[10.33,43.8],[10.78,42.3],[11.22,42.0],[11.9,42.4],[12.27,42.3],[12.8,41.5],[13.2,40.9],[13.66,41.5],[14.1,42.0],[14.5,42.7],[14.97,43.9],[15.4,45.5],[15.84,48.3],[16.02,50.3],[16.28,50.6],[16.54,50.5],[16.8,51.8],[17.07,52.8],[17.2,54.5],[17.33,56.4],[17.6,57.6],[17.8,57.1],[18.1,54.4],[18.38,51.4],[18.64,48.3],[18.9,45.3],[19.16,43.2],[19.35,40.7],[19.7,39.7],[20.03,38.6],[20.5,38.4],[21,38.4],[22,38.3],[23,38.5],[24,38.6]];
const median = [[1,38.2],[1.5,38.3],[2,38.4],[2.5,38.5],[3,38.8],[3.4,39.1],[3.7,39.0],[4.0,38.9],[4.43,38.8],[4.6,38.5],[4.8,38.2],[5.3,38.2],[5.7,38.3],[6.0,38.5],[6.37,39.2],[6.7,40.5],[7.05,41.7],[7.42,43.8],[7.68,46.8],[7.85,49.5],[7.95,50.8],[8.08,52.1],[8.18,51.3],[8.29,50.8],[8.45,51.2],[8.63,51.4],[8.81,52.1],[8.94,50.8],[9.07,48.3],[9.28,46.8],[9.5,45.8],[9.73,44.7],[9.95,44.0],[10.17,43.2],[10.4,42.6],[10.6,42.0],[10.8,41.4],[11.04,40.9],[11.5,40.7],[11.9,40.9],[12.35,40.5],[12.8,40.0],[13.2,39.7],[13.66,40.0],[14.1,40.2],[14.5,41.2],[14.97,42.3],[15.4,43.2],[15.84,44.7],[16.02,46.5],[16.28,46.8],[16.4,47.7],[16.54,47.0],[16.8,47.6],[17.07,47.7],[17.2,48.5],[17.33,49.8],[17.5,52.8],[17.64,53.3],[17.75,53.0],[17.85,52.8],[18.1,50.8],[18.38,48.3],[18.64,45.8],[18.9,43.2],[19.16,41.2],[19.5,39.7],[19.95,38.6],[20.4,38.3],[21.26,38.1],[22.1,37.9],[23,38.1],[24,38.2]];
const pct25 = [[1,37.8],[2,37.9],[3,38.3],[3.5,38.6],[4,38.5],[4.5,38.3],[4.8,37.8],[5.3,37.8],[6,38.1],[6.5,38.6],[6.9,40.0],[7.42,42.3],[7.76,44.7],[7.95,46.2],[8.1,46.0],[8.29,46.2],[8.63,45.5],[8.81,45.5],[9.02,44.7],[9.28,43.2],[9.73,41.7],[10.17,40.7],[10.6,40.2],[11.04,40.3],[11.9,40.3],[12.8,39.8],[13.66,39.5],[14.5,40.0],[14.97,40.7],[15.4,41.7],[15.84,43.2],[16.02,44.2],[16.28,43.8],[16.54,43.5],[16.8,44.0],[17.07,44.7],[17.33,47.7],[17.64,49.8],[17.85,49.2],[18.1,46.8],[18.38,44.2],[18.64,41.7],[18.9,39.7],[19.25,37.7],[19.5,37.1],[19.95,37.1],[20.4,37.7],[20.8,38.0],[21.5,37.9],[22,37.8],[23,37.9],[24,38.0]];

// ---- layout -----------------------------------------------------------
const svg = d3.select("#chart");
const W = 1139, H = 743;
const plot = { left: 157, top: 70, right: 1035, bottom: 664 };

svg.append("rect").attr("width", W).attr("height", H).attr("fill", "#ffffff");

const x = d3.scaleLinear().domain([1, 24]).range([plot.left, plot.right]);
const y = d3.scaleLinear().domain([30, 120]).range([plot.bottom, plot.top]);

svg.append("defs").append("clipPath").attr("id", "plotClip")
  .append("rect")
  .attr("x", plot.left).attr("y", plot.top)
  .attr("width", plot.right - plot.left).attr("height", plot.bottom - plot.top);

// dotted grid
const grid = svg.append("g").attr("stroke", "#111").attr("stroke-width", 1)
  .attr("stroke-dasharray", "3,3").attr("shape-rendering", "crispEdges");
grid.selectAll("line.gx").data(xTicks.filter(t => t < 24)).join("line")
  .attr("x1", d => Math.round(x(d)) + 0.5).attr("x2", d => Math.round(x(d)) + 0.5)
  .attr("y1", plot.top).attr("y2", plot.bottom);
grid.selectAll("line.gy").data(yTicks.filter(t => t > 30 && t < 120)).join("line")
  .attr("x1", plot.left).attr("x2", plot.right)
  .attr("y1", d => Math.round(y(d)) + 0.5).attr("y2", d => Math.round(y(d)) + 0.5);

// series
const line = d3.line().x(d => x(d[0])).y(d => y(d[1]));
const dataLayer = svg.append("g").attr("clip-path", "url(#plotClip)");

const cyanSeries = typicalDays.map(vals => vals.map((v, i) => [hours[i], v]))
  .concat(nightOutliers, morningOutliers, middayOutliers, eveningOutliers, lateOutliers);

dataLayer.append("g").selectAll("path").data(cyanSeries).join("path")
  .attr("d", line)
  .attr("fill", "none")
  .attr("stroke", "#00ffff")
  .attr("stroke-width", 1.2)
  .attr("stroke-linejoin", "round");

const blackSeries = [
  { data: pct75, width: 2.2 },
  { data: pct25, width: 2.2 },
  { data: median, width: 5 }
];
dataLayer.append("g").selectAll("path").data(blackSeries).join("path")
  .attr("d", d => line(d.data))
  .attr("fill", "none")
  .attr("stroke", "#000")
  .attr("stroke-width", d => d.width)
  .attr("stroke-linejoin", "round");

// axes box
svg.append("rect")
  .attr("x", plot.left + 0.5).attr("y", plot.top + 0.5)
  .attr("width", plot.right - plot.left).attr("height", plot.bottom - plot.top)
  .attr("fill", "none").attr("stroke", "#333").attr("stroke-width", 1)
  .attr("shape-rendering", "crispEdges");

// axes with inward ticks
const tickLen = 7;
const xAxis = d3.axisBottom(x).tickValues(xTicks).tickSize(-tickLen).tickPadding(8);
const yAxis = d3.axisLeft(y).tickValues(yTicks).tickSize(-tickLen).tickPadding(6);

const gx = svg.append("g").attr("transform", `translate(0,${plot.bottom})`).call(xAxis);
const gy = svg.append("g").attr("transform", `translate(${plot.left},0)`).call(yAxis);
[gx, gy].forEach(g => {
  g.select(".domain").remove();
  g.selectAll(".tick line").attr("stroke", "#333").attr("shape-rendering", "crispEdges");
  g.selectAll(".tick text").attr("fill", "#222").attr("font-size", 14)
    .attr("font-family", "'Liberation Sans', Arial, sans-serif");
});

// mirrored ticks on top and right
const gTop = svg.append("g").attr("transform", `translate(0,${plot.top})`)
  .call(d3.axisTop(x).tickValues(xTicks).tickSize(-tickLen).tickFormat(""));
const gRight = svg.append("g").attr("transform", `translate(${plot.right},0)`)
  .call(d3.axisRight(y).tickValues(yTicks).tickSize(-tickLen).tickFormat(""));
[gTop, gRight].forEach(g => {
  g.select(".domain").remove();
  g.selectAll(".tick line").attr("stroke", "#333").attr("shape-rendering", "crispEdges");
});

// titles
svg.append("text")
  .attr("x", (plot.left + plot.right) / 2).attr("y", 55)
  .attr("text-anchor", "middle").attr("font-weight", "bold").attr("font-size", 23.5)
  .attr("fill", "#000").text(chartTitle);

svg.append("text")
  .attr("x", (plot.left + plot.right) / 2 - 2).attr("y", 703)
  .attr("text-anchor", "middle").attr("font-weight", "bold").attr("font-size", 17.5)
  .attr("fill", "#000").text(xLabel);

svg.append("text")
  .attr("transform", `translate(117,${(plot.top + plot.bottom) / 2}) rotate(-90)`)
  .attr("text-anchor", "middle").attr("font-weight", "bold").attr("font-size", 17.5)
  .attr("fill", "#000").text(yLabel);

// legend
const legend = svg.append("g");
legend.append("rect")
  .attr("x", 836.5).attr("y", 82.5).attr("width", 180).attr("height", 74)
  .attr("fill", "#fff").attr("stroke", "#000").attr("stroke-width", 1);
const legendWidths = [2.2, 5, 2.2];
legendLabels.forEach((lab, i) => {
  const cy = 96 + i * 23;
  legend.append("line")
    .attr("x1", 844).attr("x2", 888).attr("y1", cy).attr("y2", cy)
    .attr("stroke", "#000").attr("stroke-width", legendWidths[i]);
  legend.append("text")
    .attr("x", 892).attr("y", cy + 6)
    .attr("font-size", 17).attr("fill", "#111").text(lab);
});

// outer frame
svg.append("line").attr("x1", 9.25).attr("x2", 9.25).attr("y1", 9).attr("y2", H)
  .attr("stroke", "#000").attr("stroke-width", 4.5);
svg.append("line").attr("x1", 7).attr("x2", W).attr("y1", 11.5).attr("y2", 11.5)
  .attr("stroke", "#000").attr("stroke-width", 4.5);
</script>
</body>
</html>
